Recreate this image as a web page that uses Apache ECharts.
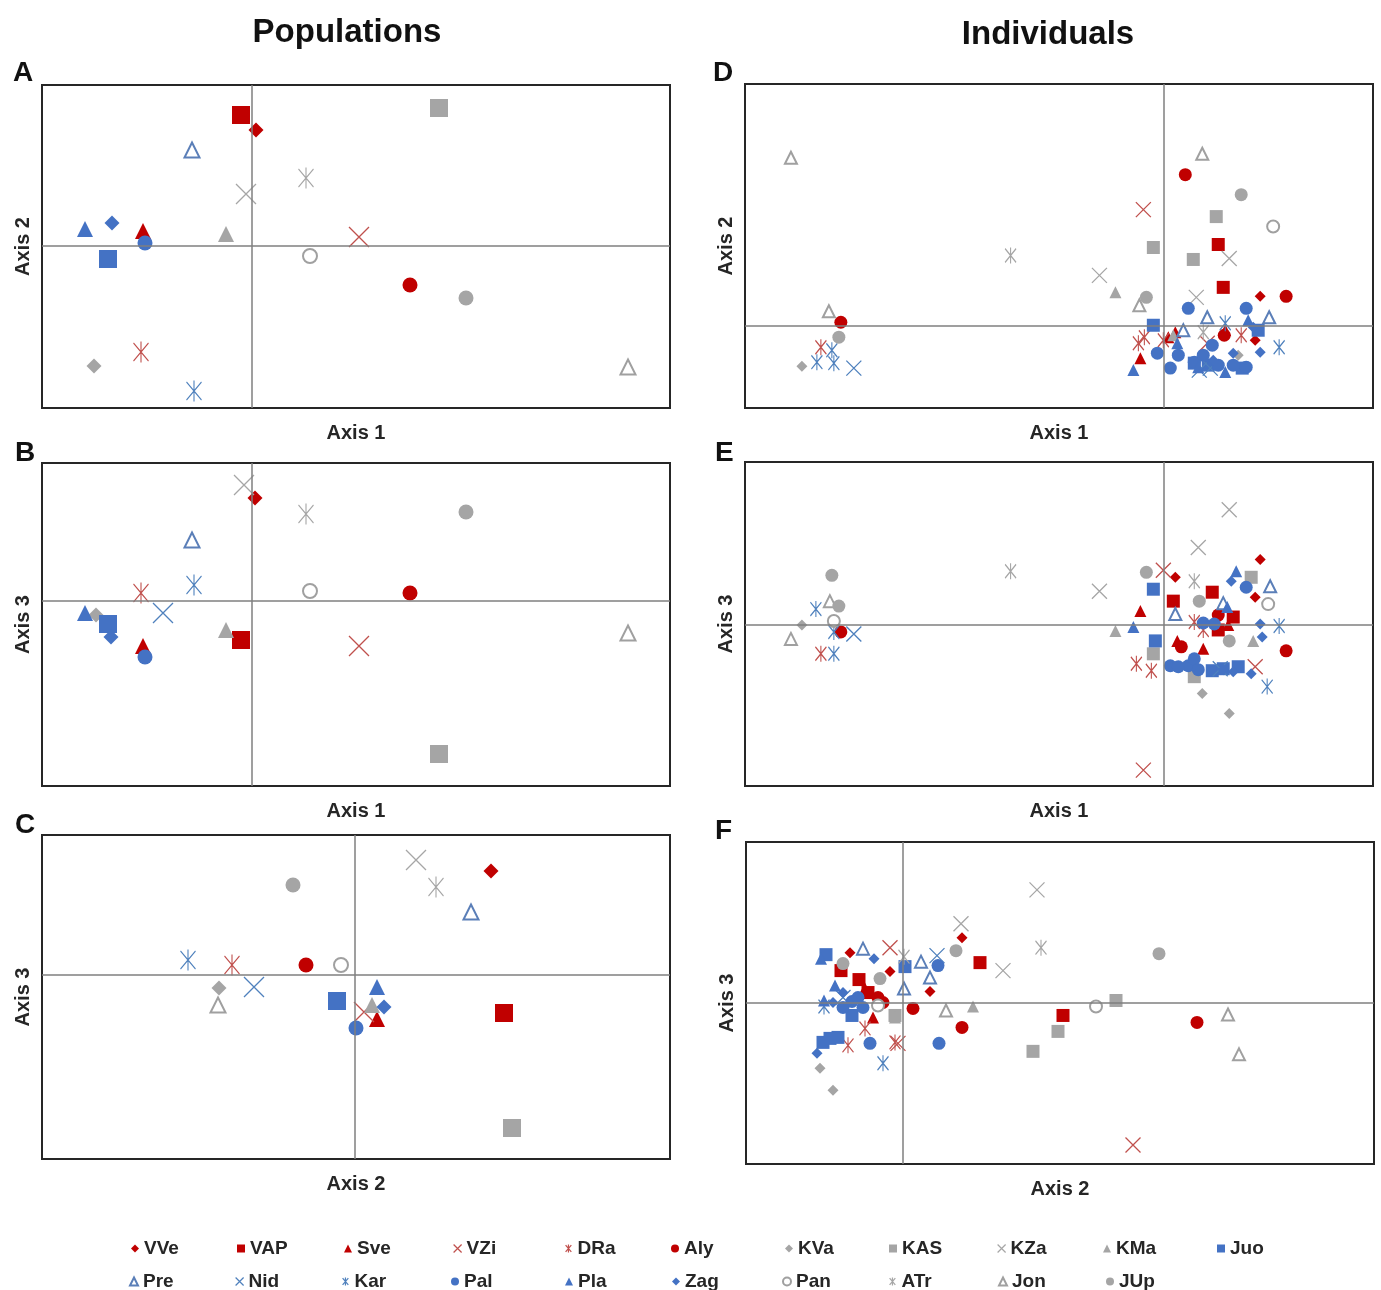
<!DOCTYPE html>
<html>
<head>
<meta charset="utf-8">
<script src="https://cdn.jsdelivr.net/npm/echarts@6/dist/echarts.min.js"></script>
<style>
  html, body { margin: 0; padding: 0; background: #fff; }
  #chart { width: 1381px; height: 1290px; }
</style>
</head>
<body>
<div id="chart"></div>
<script>
// populations, legend order
const pops = ['VVe', 'VAP', 'Sve', 'VZi', 'DRa', 'Aly', 'KVa', 'KAS', 'KZa', 'KMa', 'Juo',
              'Pre', 'Nid', 'Kar', 'Pal', 'Pla', 'Zag', 'Pan', 'ATr', 'Jon', 'JUp'];
const popGroup = ['r', 'r', 'r', 'r', 'r', 'r', 'g', 'g', 'g', 'g', 'b',
                  'b', 'b', 'b', 'b', 'b', 'b', 'g', 'g', 'g', 'g'];
const popShape = ['diamond', 'square', 'triangle', 'cross', 'star', 'circle', 'diamond', 'square', 'cross', 'triangle', 'square',
                  'openTri', 'cross', 'star', 'circle', 'triangle', 'diamond', 'openCircle', 'star', 'openTri', 'circle'];

// population scores (panel A: axis1 x axis2, B: axis1 x axis3, C: axis2 x axis3)
const popA = [[0.04, 1.16], [-0.11, 1.31], [-1.09, 0.15], [1.07, 0.09], [-1.11, -1.06], [1.58, -0.39],
              [-1.58, -1.20], [1.87, 1.38], [-0.06, 0.52], [-0.26, 0.12], [-1.44, -0.13],
              [-0.60, 0.96], null, [-0.58, -1.45], [-1.07, 0.03], [-1.67, 0.17], [-1.40, 0.23],
              [0.58, -0.10], [0.54, 0.68], [3.76, -1.21], [2.14, -0.52]];
const popB = [[0.03, 1.03], [-0.11, -0.39], [-1.09, -0.45], [1.07, -0.45], [-1.11, 0.08], [1.58, 0.08],
              [-1.56, -0.14], [1.87, -1.53], [-0.08, 1.16], [-0.26, -0.29], [-1.44, -0.23],
              [-0.60, 0.61], [-0.89, -0.12], [-0.58, 0.16], [-1.07, -0.56], [-1.67, -0.12], [-1.41, -0.36],
              [0.58, 0.10], [0.54, 0.87], [3.76, -0.32], [2.14, 0.89]];
const popC = [[1.36, 1.04], [1.49, -0.38], [0.22, -0.44], [0.09, -0.37], [-1.23, 0.10], [-0.49, 0.10],
              [-1.36, -0.13], [1.57, -1.53], [0.61, 1.15], [0.17, -0.30], [-0.18, -0.26],
              [1.16, 0.63], [-1.01, -0.12], [-1.67, 0.15], [0.01, -0.53], [0.22, -0.12], [0.29, -0.32],
              [-0.14, 0.10], [0.81, 0.88], [-1.37, -0.30], [-0.62, 0.90]];

// individual scores, one list per population (D: axis1 x axis2, E: axis1 x axis3, F: axis2 x axis3)
const indD = [
  [[0.97, 0.29], [0.92, -0.15]],
  [[0.55, 0.81], [0.60, 0.38]],
  [[-0.23, -0.33], [0.12, -0.07], [0.05, -0.12], [0.62, -0.05]],
  [[-0.20, 1.16], [0.44, -0.18]],
  [[-3.43, -0.22], [-0.25, -0.18], [-0.19, -0.12], [0.78, -0.10], [0.00, -0.15]],
  [[-3.23, 0.03], [0.22, 1.51], [1.23, 0.29], [0.61, -0.10]],
  [[-3.62, -0.41], [0.75, -0.30]],
  [[-0.10, 0.78], [0.53, 1.09], [0.30, 0.66]],
  [[-0.64, 0.50], [0.66, 0.67], [0.33, 0.28]],
  [[-0.48, 0.33], [0.10, -0.10]],
  [[-0.10, 0.00], [0.79, -0.43], [0.31, -0.38], [0.45, -0.40], [0.95, -0.05]],
  [[0.44, 0.08], [1.06, 0.08], [0.20, -0.05]],
  [[-3.10, -0.43], [0.36, -0.45], [0.47, -0.43]],
  [[-3.47, -0.37], [-3.30, -0.38], [-3.32, -0.25], [1.16, -0.22], [0.62, 0.02]],
  [[0.25, 0.17], [0.83, 0.17], [-0.06, -0.28], [0.07, -0.43], [0.31, -0.37], [0.49, -0.20], [0.83, -0.42],
   [0.40, -0.30], [0.15, -0.30], [0.55, -0.40], [0.70, -0.40]],
  [[-0.30, -0.45], [0.62, -0.47], [0.14, -0.18], [0.35, -0.42], [0.85, 0.05]],
  [[0.90, -0.02], [0.97, -0.27], [0.70, -0.28], [0.50, -0.35]],
  [[1.10, 0.99]],
  [[-1.53, 0.70], [0.40, -0.07]],
  [[-3.73, 1.68], [-3.35, 0.14], [-0.24, 0.20], [0.39, 1.72]],
  [[-3.25, -0.12], [-0.17, 0.28], [0.78, 1.31]]
];
const indE = [
  [[0.12, 0.48], [0.97, 0.66], [0.92, 0.28]],
  [[0.10, 0.24], [0.49, 0.33], [0.70, 0.08], [0.55, -0.05]],
  [[-0.23, 0.14], [0.40, -0.24], [0.14, -0.16], [0.65, 0.00]],
  [[0.00, 0.55], [-0.20, -1.46], [0.92, -0.42]],
  [[-3.43, -0.29], [-0.27, -0.39], [-0.12, -0.46], [0.31, 0.03], [0.40, -0.05]],
  [[-3.23, -0.07], [1.23, -0.26], [0.18, -0.22], [0.55, 0.10]],
  [[-3.62, 0.00], [0.39, -0.69], [0.66, -0.89]],
  [[0.88, 0.48], [0.31, -0.52], [-0.10, -0.29]],
  [[-0.64, 0.34], [0.66, 1.16], [0.35, 0.78]],
  [[-0.48, -0.06], [0.90, -0.16]],
  [[-0.10, 0.36], [-0.08, -0.16], [0.49, -0.46], [0.75, -0.42], [0.60, -0.44]],
  [[1.07, 0.39], [0.12, 0.11], [0.60, 0.22]],
  [[-3.10, -0.09], [0.57, -0.44]],
  [[-3.48, 0.16], [-3.30, -0.29], [-3.30, -0.07], [1.04, -0.62], [1.16, -0.01]],
  [[0.07, -0.41], [0.25, -0.41], [0.51, 0.01], [0.83, 0.38], [0.31, -0.34], [0.40, 0.02], [0.15, -0.42], [0.35, -0.45]],
  [[-0.30, -0.02], [0.64, 0.18], [0.73, 0.54]],
  [[0.88, -0.49], [0.68, 0.44], [0.97, 0.01], [0.99, -0.12], [0.60, -0.45], [0.70, -0.47]],
  [[-3.30, 0.04], [1.05, 0.21]],
  [[-1.53, 0.54], [0.31, 0.44]],
  [[-3.34, 0.24], [-3.73, -0.14]],
  [[-3.32, 0.50], [-3.25, 0.19], [-0.17, 0.53], [0.36, 0.24], [0.66, -0.16]]
];
const indF = [
  [[0.59, 0.65], [0.27, 0.11], [-0.53, 0.50], [-0.13, 0.31]],
  [[0.77, 0.40], [1.60, -0.13], [-0.44, 0.23], [-0.62, 0.32], [-0.35, 0.10]],
  [[-0.38, 0.14], [-0.30, -0.15]],
  [[-0.13, 0.55], [2.30, -1.43], [-0.05, -0.41]],
  [[-0.55, -0.43], [-0.38, -0.26], [-0.08, -0.40]],
  [[0.59, -0.25], [2.94, -0.20], [0.10, -0.06], [-0.20, 0.00], [-0.25, 0.05]],
  [[-0.83, -0.66], [-0.70, -0.88]],
  [[2.13, 0.02], [1.55, -0.29], [1.30, -0.49], [-0.08, -0.13]],
  [[1.34, 1.13], [0.58, 0.79], [1.00, 0.32]],
  [[0.70, -0.04], [-0.08, -0.15]],
  [[0.02, 0.36], [-0.77, 0.48], [-0.73, -0.36], [-0.51, -0.13], [-0.80, -0.40], [-0.65, -0.35]],
  [[0.18, 0.41], [0.27, 0.25], [-0.40, 0.54], [0.01, 0.14]],
  [[0.34, 0.47], [-0.60, 0.05]],
  [[-0.20, -0.61], [-0.79, -0.04]],
  [[0.35, 0.37], [0.36, -0.41], [-0.33, -0.41], [-0.51, 0.01], [-0.45, 0.05], [-0.60, -0.05], [-0.40, -0.05]],
  [[-0.82, 0.44], [-0.68, 0.17], [-0.79, 0.02]],
  [[-0.29, 0.44], [-0.86, -0.51], [-0.60, 0.10], [-0.70, 0.00]],
  [[1.93, -0.04], [-0.25, -0.03]],
  [[1.38, 0.55], [0.01, 0.46]],
  [[0.43, -0.08], [3.25, -0.12], [3.36, -0.52]],
  [[0.53, 0.52], [2.56, 0.49], [-0.23, 0.24], [-0.60, 0.39]]
];

const xNames = ['Axis 1', 'Axis 1', 'Axis 2', 'Axis 1', 'Axis 1', 'Axis 2'];
const yNames = ['Axis 2', 'Axis 3', 'Axis 3', 'Axis 2', 'Axis 3', 'Axis 3'];
const xRanges = [[-2.10, 4.18], [-2.10, 4.18], [-3.13, 3.15], [-4.19, 2.10], [-4.19, 2.10], [-1.57, 4.71]];
const yRanges = [[-1.62, 1.61], [-1.85, 1.38], [-1.84, 1.40], [-0.83, 2.42], [-1.62, 1.64], [-1.62, 1.61]];

document.addEventListener('DOMContentLoaded', () => {
    const chart = echarts.init(document.getElementById('chart'));

    const colors = { r: '#C00000', g: '#A5A5A5', b: '#4472C4' };
    const lineColors = { r: '#C0504D', g: '#A6A6A6', b: '#4F81BD' };
    const symbols = {
        diamond: 'diamond', square: 'rect', triangle: 'triangle', circle: 'circle',
        cross: 'path://M0,0L10,10M10,0L0,10',
        star: 'path://M0,1L10,13M10,1L0,13M5,0L5,14',
        openTri: 'emptyTriangle', openCircle: 'emptyCircle'
    };
    const bigSize = { diamond: 15, square: 18, triangle: 16, circle: 15, cross: 20, star: [15, 21], openTri: 15, openCircle: 14 };
    const smallSize = { diamond: 11, square: 13, triangle: 12, circle: 13, cross: 15, star: [11, 16], openTri: 12, openCircle: 12 };

    function styleFor(i) {
        const shape = popShape[i];
        const g = popGroup[i];
        if (shape === 'cross' || shape === 'star') {
            return { color: lineColors[g], borderColor: lineColors[g], borderWidth: 1.3, opacity: 1 };
        }
        if (shape === 'openTri' || shape === 'openCircle') {
            return { color: g === 'b' ? '#5B7FB8' : '#A0A0A0', borderWidth: 1.3, opacity: 1 };
        }
        return { color: colors[g], borderWidth: 0, opacity: 1 };
    }

    const grids = [
        { left: 42, top: 85, width: 628, height: 323 },
        { left: 42, top: 463, width: 628, height: 323 },
        { left: 42, top: 835, width: 628, height: 324 },
        { left: 745, top: 84, width: 628, height: 324 },
        { left: 745, top: 462, width: 628, height: 324 },
        { left: 746, top: 842, width: 628, height: 322 }
    ].map(g => Object.assign(g, { show: true, borderColor: '#262626', borderWidth: 2, backgroundColor: '#fff' }));

    const nameStyle = { fontFamily: 'Liberation Sans', fontWeight: 'bold', fontSize: 20, color: '#262626' };

    const xAxis = grids.map((g, p) => ({
        type: 'value', gridIndex: p, min: xRanges[p][0], max: xRanges[p][1],
        name: xNames[p], nameLocation: 'middle', nameGap: 15, nameTextStyle: nameStyle,
        axisLine: { show: false }, axisTick: { show: false }, axisLabel: { show: false }, splitLine: { show: false }
    }));
    const yAxis = grids.map((g, p) => ({
        type: 'value', gridIndex: p, min: yRanges[p][0], max: yRanges[p][1],
        name: yNames[p], nameLocation: 'middle', nameGap: 9, nameTextStyle: nameStyle,
        axisLine: { show: false }, axisTick: { show: false }, axisLabel: { show: false }, splitLine: { show: false }
    }));

    const panels = [popA, popB, popC, indD, indE, indF];
    const series = [];
    panels.forEach((pts, p) => {
        // zero lines
        series.push({
            type: 'scatter', name: 'zero' + p, xAxisIndex: p, yAxisIndex: p, z: 1,
            data: [[0, 0]], symbolSize: 0, silent: true,
            markLine: {
                silent: true, symbol: ['none', 'none'], label: { show: false },
                lineStyle: { color: '#7F7F7F', width: 1.5, type: 'solid' },
                emphasis: { disabled: true },
                data: [{ xAxis: 0 }, { yAxis: 0 }]
            }
        });
        pops.forEach((name, i) => {
            let data;
            if (p < 3) data = pts[i] ? [pts[i]] : [];
            else data = pts[i];
            series.push({
                type: 'scatter', name: name, xAxisIndex: p, yAxisIndex: p, z: 2,
                data: data,
                symbol: symbols[popShape[i]],
                symbolSize: (p < 3 ? bigSize : smallSize)[popShape[i]],
                itemStyle: styleFor(i)
            });
        });
    });

    // legend, one component per entry so the columns line up
    const legX = [126, 232, 339, 448, 560, 666, 780, 884, 992, 1098, 1212,
                  124, 230, 337, 446, 560, 667, 777, 884, 993, 1101];
    const legends = pops.map((name, i) => {
        const st = styleFor(i);
        const shape = popShape[i];
        let icon = symbols[shape];
        let itemStyle;
        if (shape === 'cross' || shape === 'star') itemStyle = { color: st.color, borderColor: st.color, borderWidth: 1.2, opacity: 1 };
        else if (shape === 'openTri' || shape === 'openCircle') itemStyle = { color: st.color, borderColor: st.color, borderWidth: 1, opacity: 1 };
        else itemStyle = { color: st.color, borderWidth: 0, opacity: 1 };
        return {
            left: legX[i], top: i < 11 ? 1234 : 1267, selectedMode: false,
            itemWidth: 8, itemHeight: 8, itemGap: 0,
            data: [{ name: name, icon: icon, itemStyle: itemStyle }],
            textStyle: { fontFamily: 'Liberation Sans Narrow, Liberation Sans', fontWeight: 'bold', fontSize: 19, color: '#262626' }
        };
    });

    const letterStyle = { fontFamily: 'Liberation Sans', fontWeight: 'bold', fontSize: 28, color: '#111' };
    const titles = [
        { text: 'Populations', left: 342, top: 11, textAlign: 'center',
          textStyle: { fontFamily: 'Liberation Sans', fontWeight: 'bold', fontSize: 33, color: '#111' } },
        { text: 'Individuals', left: 1043, top: 13, textAlign: 'center',
          textStyle: { fontFamily: 'Liberation Sans', fontWeight: 'bold', fontSize: 33, color: '#111' } },
        { text: 'A', left: 8, top: 54, textStyle: letterStyle },
        { text: 'B', left: 10, top: 434, textStyle: letterStyle },
        { text: 'C', left: 10, top: 806, textStyle: letterStyle },
        { text: 'D', left: 708, top: 54, textStyle: letterStyle },
        { text: 'E', left: 710, top: 434, textStyle: letterStyle },
        { text: 'F', left: 710, top: 812, textStyle: letterStyle }
    ];

    const option = {
        animation: false,
        backgroundColor: '#fff',
        title: titles,
        legend: legends,
        grid: grids,
        xAxis: xAxis,
        yAxis: yAxis,
        series: series
    };
    chart.setOption(option);
});
</script>
</body>
</html>
